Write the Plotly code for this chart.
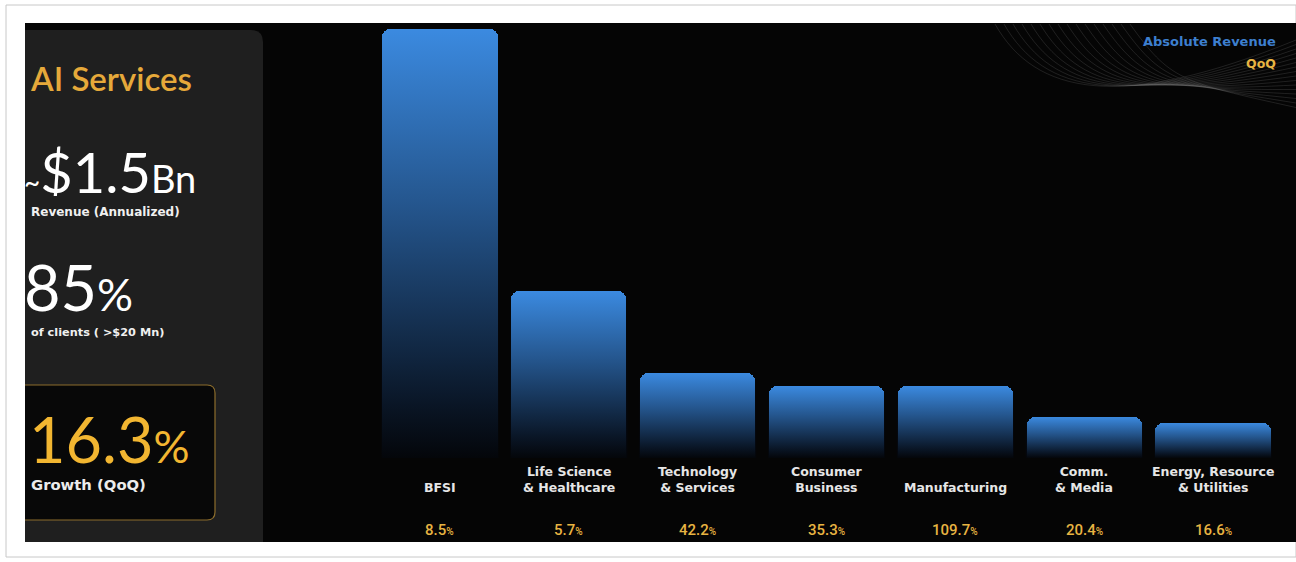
import plotly.graph_objects as go

# ---------------- data ----------------
categories = ["BFSI", "Life Science<br>& Healthcare", "Technology<br>& Services",
              "Consumer<br>Business", "Manufacturing", "Comm.<br>& Media",
              "Energy, Resource<br>& Utilities"]
abs_revenue = [100.0, 38.9, 19.8, 16.8, 16.8, 9.6, 8.2]      # relative bar heights
qoq_growth = [8.5, 5.7, 42.2, 35.3, 109.7, 20.4, 16.6]        # % QoQ

headline_title = "AI Services"
revenue_text = "$1.5"
clients_pct = "85"
growth_pct = "16.3"

W, H = 1296, 562
def px(x): return x / W
def py(y): return 1 - y / H

BLUE = "#3b8ae0"
GOLD = "#e8b442"
BAR_W = 0.895
OVL_W = BAR_W + 0.012
SMALL = "DejaVu Sans"
BIG = "Lato"

fig = go.Figure()
idx = list(range(len(categories)))

fig.add_trace(go.Bar(
    x=idx, y=abs_revenue, width=BAR_W,
    marker=dict(color=BLUE, cornerradius=8, line=dict(width=0)),
    hoverinfo="skip", showlegend=False))

# dark-to-transparent gradient overlay on each bar
for i, v in zip(idx, abs_revenue):
    fig.add_trace(go.Scatter(
        x=[i - OVL_W / 2, i + OVL_W / 2, i + OVL_W / 2, i - OVL_W / 2, i - OVL_W / 2],
        y=[0, 0, v, v, 0], mode="lines", line=dict(width=0),
        fill="toself",
        fillgradient=dict(type="vertical", colorscale=[
            [0, "rgba(4,6,10,1)"], [0.12, "rgba(4,8,16,0.9)"],
            [0.6, "rgba(4,10,22,0.4)"], [1, "rgba(4,10,22,0)"]]),
        hoverinfo="skip", showlegend=False))

shapes = []
# outer frame
shapes.append(dict(type="rect", xref="paper", yref="paper", x0=px(6), x1=px(1296),
                   y0=py(557), y1=py(5), line=dict(color="#c8c8c8", width=1),
                   fillcolor="#ffffff", layer="below"))
# dark slide
shapes.append(dict(type="rect", xref="paper", yref="paper", x0=px(25), x1=px(1296),
                   y0=py(542), y1=py(23), line=dict(width=0),
                   fillcolor="#050505", layer="below"))
# left panel with rounded top-right corner
r = 12
l, t, rr, b = 25, 30, 263, 542
path = (f"M {px(l)},{py(b)} L {px(l)},{py(t)} L {px(rr - r)},{py(t)} "
        f"Q {px(rr)},{py(t)} {px(rr)},{py(t + r)} L {px(rr)},{py(b)} Z")
shapes.append(dict(type="path", xref="paper", yref="paper", path=path,
                   fillcolor="#1f1f1f", line=dict(width=0), layer="below"))
# gold-bordered growth box
r = 8
l, t, rr, b = 25, 385, 215, 520
path = (f"M {px(l)},{py(t)} L {px(rr - r)},{py(t)} Q {px(rr)},{py(t)} {px(rr)},{py(t + r)} "
        f"L {px(rr)},{py(b - r)} Q {px(rr)},{py(b)} {px(rr - r)},{py(b)} L {px(l)},{py(b)}")
shapes.append(dict(type="path", xref="paper", yref="paper", path=path,
                   fillcolor="#080808", line=dict(color="#8c6d2c", width=1.2), layer="below"))
# decorative waves in the top-right corner
for k in range(16):
    x0 = 995 + k * 9
    shapes.append(dict(
        type="path", xref="paper", yref="paper",
        path=(f"M {px(x0)},{py(24)} C {px(x0 + 40)},{py(95 - k)} {px(1120 + k * 4)},{py(112 - k * 2)} "
              f"{px(1296)},{py(40 + k * 4.5)}"),
        line=dict(color="rgba(200,200,200,0.18)", width=0.8), layer="below"))
fig.update_layout(shapes=shapes)

ann = []
# category labels
for i, c in zip(idx, categories):
    ann.append(dict(x=i, y=py(497), xref="x", yref="paper", text=f"<b>{c}</b>",
                    showarrow=False, yanchor="bottom", xanchor="center",
                    font=dict(family=SMALL, size=12.5, color="#e6e6e6"),
                    align="center"))
# QoQ labels
for i, g in zip(idx, qoq_growth):
    ann.append(dict(x=i, y=py(530), xref="x", yref="paper",
                    text=f"{g}<span style='font-size:10px'>%</span>",
                    showarrow=False, yanchor="middle", xanchor="center",
                    font=dict(family="Roboto", size=15, color=GOLD, weight=500)))
# legend texts
ann.append(dict(x=px(1278), y=py(41), xref="paper", yref="paper", text="<b>Absolute Revenue</b>",
                showarrow=False, xanchor="right", yanchor="middle",
                font=dict(family=SMALL, size=13, color="#3d7fcf")))
ann.append(dict(x=px(1278), y=py(64), xref="paper", yref="paper", text="<b>QoQ</b>",
                showarrow=False, xanchor="right", yanchor="middle",
                font=dict(family=SMALL, size=12.5, color=GOLD)))


def big(text, x, baseline, fs, color):
    # box trimmed to the glyph ascent so the descender area does not spill over
    return dict(x=px(x), y=py(baseline - 1.02 * fs), xref="paper", yref="paper", text=text,
                showarrow=False, xanchor="left", yanchor="top", valign="top",
                height=round(1.04 * fs), font=dict(family=BIG, size=fs, color=color))


# left panel texts
ann.append(dict(x=px(28), y=py(78), xref="paper", yref="paper", text=headline_title,
                showarrow=False, xanchor="left", yanchor="middle",
                font=dict(family=BIG, size=33, color="#e6a93a", weight=600)))
ann.append(big(f"<span style='font-size:28px'>~</span>{revenue_text}<span style='font-size:38px'>Bn</span>",
               22, 193, 56, "#ffffff"))
ann.append(dict(x=px(29), y=py(212), xref="paper", yref="paper", text="<b>Revenue (Annualized)</b>",
                showarrow=False, xanchor="left", yanchor="middle",
                font=dict(family=SMALL, size=12, color="#f0f0f0")))
ann.append(big(f"{clients_pct}<span style='font-size:45px'>%</span>", 22, 311, 63, "#ffffff"))
ann.append(dict(x=px(29), y=py(332), xref="paper", yref="paper", text="<b>of clients ( >$20 Mn)</b>",
                showarrow=False, xanchor="left", yanchor="middle",
                font=dict(family=SMALL, size=11.3, color="#f0f0f0")))
ann.append(big(f"{growth_pct}<span style='font-size:45px'>%</span>", 27, 463, 63, "#f2b631"))
ann.append(dict(x=px(29), y=py(484), xref="paper", yref="paper", text="<b>Growth (QoQ)</b>",
                showarrow=False, xanchor="left", yanchor="middle",
                font=dict(family=SMALL, size=14.8, color="#ececec")))

fig.update_layout(
    annotations=ann,
    width=W, height=H,
    margin=dict(l=0, r=0, t=0, b=0),
    paper_bgcolor="#ffffff", plot_bgcolor="rgba(0,0,0,0)",
    xaxis=dict(range=[-3.415, 6.644], visible=False, fixedrange=True),
    yaxis=dict(range=[-24.24, 106.76], visible=False, fixedrange=True),
    bargap=0, showlegend=False,
)

fig.write_html("out.html", config={"displayModeBar": False},
               post_script="document.body.style.margin='0';")
